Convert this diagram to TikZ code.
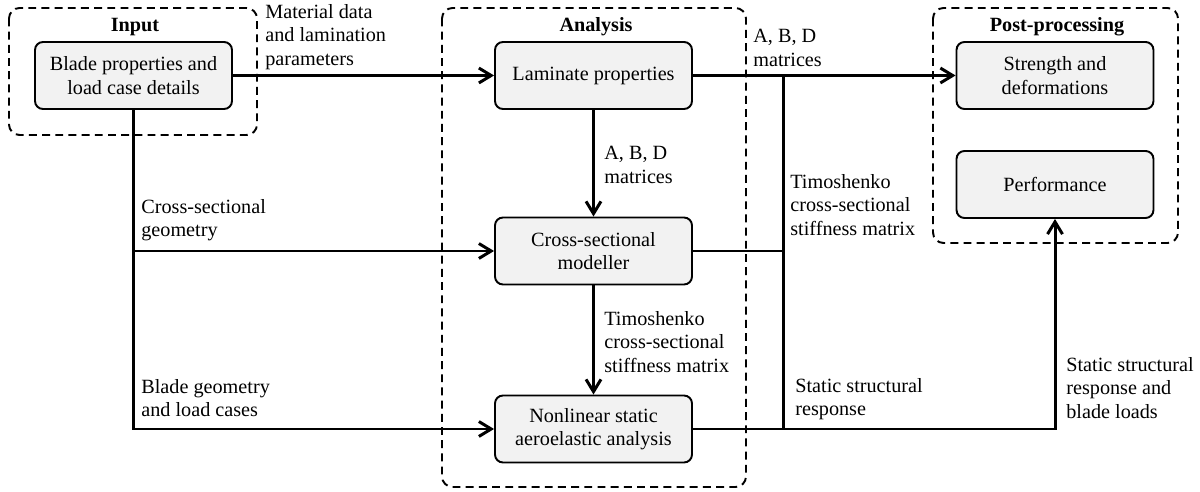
\documentclass[tikz,border=0pt]{standalone}
\usepackage{fontspec}
\setmainfont{Liberation Serif}
\newfontfamily\tnr{Liberation Serif}
\usepackage{tikz}
\usetikzlibrary{arrows.meta}

\tikzset{
  blk/.style={draw, line width=1.1pt, rounded corners=4.5pt, fill=gray!10,
    minimum width=3.94cm, minimum height=1.34cm, align=center, inner sep=1pt},
  grp/.style={draw, line width=1.1pt, rounded corners=6pt, dash pattern=on 4.5pt off 3pt},
  ttl/.style={font=\tnr\fontsize{11.5}{13.4}\selectfont\bfseries, anchor=base},
  lbl/.style={anchor=north west, align=left, inner sep=0pt},
  flow/.style={line width=1.7pt},
}

\begin{document}
\begin{tikzpicture}[x=0.02cm, y=-0.02cm, >={Straight Barb[length=7pt,width=8.5pt]},
    font=\tnr\fontsize{11.5}{13.4}\selectfont]
    \useasboundingbox (0,0) rectangle (1200,492);

    % groups
    \draw[grp] (9,8) rectangle (257,135);
    \draw[grp] (442,8) rectangle (746,487);
    \draw[grp] (933,8) rectangle (1178,243);
    \node[ttl] (tin)  at (135,32)  {Input};
    \node[ttl] (tana) at (596,32)  {Analysis};
    \node[ttl] (tpost) at (1057,32) {Post-processing};

    % blocks
    \node[blk] (blade) at (133.5,75.5) {Blade properties and\\load case details};
    \node[blk] (lam)   at (593.5,75.5) {Laminate properties};
    \node[blk] (xsec)  at (593.5,251)  {Cross-sectional\\modeller};
    \node[blk] (nls)   at (593.5,429)  {Nonlinear static\\aeroelastic analysis};
    \node[blk] (str)   at (1055,75.5)  {Strength and\\deformations};
    \node[blk] (perf)  at (1055,184.5) {Performance};

    \coordinate (jn) at (783,75.5);

    % connectors
    \draw[flow,->] (blade) -- (lam);
    \draw[flow,->] (lam) -- (xsec);
    \draw[flow,->] (xsec) -- (nls);
    \draw[flow,->] (blade.south) |- (nls.west);
    \draw[flow,->] (blade.south |- xsec.west) -- (xsec.west);
    \draw[flow,->] (lam) -- (str);
    \draw[flow] (jn) -- (jn |- nls.east);
    \draw[flow] (xsec.east) -- (xsec.east -| jn);
    \draw[flow,->] (nls.east) -| (perf.south);

    % labels
    \node[lbl] (lmat)  at (265,4)   {Material data\\and lamination\\parameters};
    \node[lbl] (labd1) at (604,146) {A, B, D\\matrices};
    \node[lbl] (labd2) at (753,29)  {A, B, D\\matrices};
    \node[lbl] (lgeo)  at (141,199) {Cross-sectional\\geometry};
    \node[lbl] (lload) at (141,379) {Blade geometry\\and load cases};
    \node[lbl] (ltim1) at (604,311) {Timoshenko\\cross-sectional\\stiffness matrix};
    \node[lbl] (ltim2) at (790,174) {Timoshenko\\cross-sectional\\stiffness matrix};
    \node[lbl] (lsr1)  at (795,378) {Static structural\\response};
    \node[lbl] (lsr2)  at (1066,357) {Static structural\\response and\\blade loads};
\end{tikzpicture}
\end{document}
